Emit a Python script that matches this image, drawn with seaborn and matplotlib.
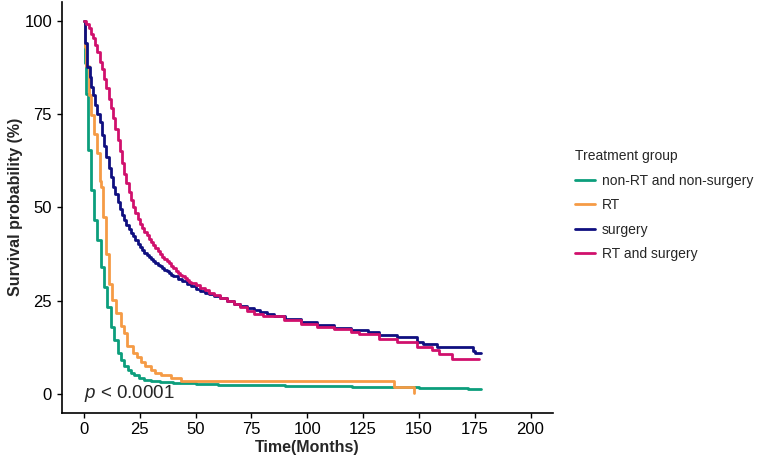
import matplotlib
matplotlib.use("Agg")
import matplotlib.pyplot as plt
import seaborn as sns
import pandas as pd

groups = ["non-RT and non-surgery", "RT", "surgery", "RT and surgery"]
colors = ["#0C9E7C", "#F59B45", "#0F0F80", "#D0106C"]

t_none = [0, 0.3, 0.8, 1.8, 3.3, 4.5, 6.0, 7.5, 9.0, 10.5, 12.0, 13.5, 15.0, 16.5, 18, 19.5,
          21, 22.5, 24.5, 27, 30, 34, 40, 50, 60, 75, 90, 105, 120, 135, 150, 160, 172, 177.8]
s_none = [100, 88.6, 80.5, 65.4, 54.6, 46.6, 41.3, 34.0, 28.7, 23.4, 18.0, 14.5, 10.9, 9.1, 7.6, 6.4,
          5.6, 5.1, 4.4, 3.8, 3.4, 3.1, 2.9, 2.7, 2.5, 2.4, 2.2, 2.1, 1.9, 1.8, 1.7, 1.6, 1.4, 1.4]

t_rt = [0, 0.3, 1, 2, 3, 4.5, 6, 7, 7.5, 8.7, 9.7, 11.2, 12.7, 14.2, 16.5, 18, 19.4, 21.7,
        23.5, 25.4, 27.5, 29.9, 32, 34.3, 38.8, 43.3, 139, 148]
s_rt = [100, 93, 88, 80, 74.7, 69.7, 64.5, 57, 55.5, 47.5, 37.6, 29.6, 25.2, 21.6, 18.1, 16.3, 12.8, 11,
        9.8, 8.7, 7.5, 6.4, 5.7, 5.1, 4.2, 3.5, 1.8, 0.2]

t_surg = [0, 0.3, 1.5, 2.5, 3.3, 4, 5, 6, 7, 8, 9, 10, 11, 12, 13, 14, 15, 16, 17, 18, 19, 20,
          21, 22, 23, 24, 25, 26, 27, 28, 29, 30, 31, 32, 33, 34, 35, 36, 37, 38, 39, 40, 42,
          44, 46, 48, 50, 52, 54, 56, 58, 61, 64, 67, 70, 73, 76, 79, 82, 85, 90, 97, 104.5,
          112, 119.4, 127, 132, 140, 149.3, 152, 158, 174.3, 175.3, 177.8]
s_surg = [100, 94, 87.7, 85, 82.3, 80, 77.5, 75, 73, 69.5, 66.5, 63.5, 60.5, 58, 55.5, 53.5, 51.5,
          49.5, 48, 46.5, 45.3, 44.2, 43.2, 42.2, 41.3, 40.3, 39.4, 38.6, 37.9, 37.3, 36.7, 36.1,
          35.6, 35.1, 34.6, 34.2, 33.7, 33.3, 32.9, 32.4, 32, 31.6, 30.9, 30.2, 29.4, 28.8, 28.2,
          27.6, 27.1, 26.7, 26.3, 25.6, 24.9, 24.2, 23.6, 23.1, 22.5, 22.0, 21.5, 21.0, 20.2, 19.3,
          18.4, 17.7, 17.1, 16.6, 15.9, 15.3, 14.0, 13.4, 12.7, 11.6, 10.9, 10.9]

t_both = [0, 1, 2, 3, 4, 5, 6, 7, 8, 9, 10, 11, 12, 13, 14, 15, 16, 17, 18, 19, 20, 21, 22, 23,
          24, 25, 26, 27, 28, 29, 30, 31, 32, 33, 34, 35, 36, 37, 38, 39, 40, 41, 42, 43, 44, 45,
          46, 47, 48, 50, 52, 54, 56, 58, 61, 64, 67, 70, 73, 76, 80, 89.5, 97, 104.5, 112, 119.4,
          123, 132, 140, 149.3, 156, 159, 165, 176.9]
s_both = [100, 99, 98, 96.5, 95.3, 93.5, 91.5, 89, 87, 84.5, 82, 79, 76.5, 74, 71, 68, 65, 62,
          59, 56.5, 54, 52, 50, 48.5, 47, 45.5, 44.5, 43.5, 42.5, 41.5, 40.7, 40, 39, 38.3, 37.5,
          36.8, 36.2, 35.5, 35, 34.3, 33.7, 33, 32.5, 32, 31.5, 31, 30.5, 30, 29.7, 29.2, 28.5,
          27.8, 27.1, 26.5, 25.7, 24.8, 24, 23.2, 22.3, 21.5, 20.8, 19.8, 18.8, 18, 17.3, 16.7,
          16.1, 14.6, 14, 12.7, 11.8, 10.8, 9.3, 9.3]

x_ticks = [0, 25, 50, 75, 100, 125, 150, 175, 200]
y_ticks = [0, 25, 50, 75, 100]

rows = []
for g, tt, ss in zip(groups, [t_none, t_rt, t_surg, t_both], [s_none, s_rt, s_surg, s_both]):
    for a, b in zip(tt, ss):
        rows.append((g, a, b))
df = pd.DataFrame(rows, columns=["group", "time", "surv"])

sns.set_style("ticks")
plt.rcParams["font.family"] = ["Liberation Sans", "DejaVu Sans"]
plt.rcParams["mathtext.fontset"] = "custom"
plt.rcParams["mathtext.it"] = "Liberation Sans:italic"
plt.rcParams["mathtext.rm"] = "Liberation Sans"

fig = plt.figure(figsize=(7.65, 4.58), dpi=100)
ax = fig.add_axes([0.0807, 0.099, 0.642, 0.8965])

sns.lineplot(data=df, x="time", y="surv", hue="group", hue_order=groups,
             palette=dict(zip(groups, colors)), drawstyle="steps-post",
             estimator=None, sort=False, linewidth=2.0, ax=ax)

ax.set_xlim(-10, 210)
ax.set_ylim(-5, 105)
ax.set_xticks(x_ticks)
ax.set_yticks(y_ticks)
ax.tick_params(axis="both", labelsize=12, length=3.5, width=1.0, color="black", labelcolor="black", direction="out")
for sp in ["top", "right"]:
    ax.spines[sp].set_visible(False)
for sp in ["left", "bottom"]:
    ax.spines[sp].set_linewidth(1.2)
    ax.spines[sp].set_color("black")

ax.set_xlabel("Time(Months)", fontsize=11.5, fontweight="bold", labelpad=2)
ax.set_ylabel("Survival probability (%)", fontsize=11.5, fontweight="bold", labelpad=1)

ax.text(0, 0, r"$\it{p}$ < 0.0001", fontsize=13.5, ha="left", va="center")

handles, labels = ax.get_legend_handles_labels()
leg = ax.legend(handles, labels, title="Treatment group", loc="center left",
                bbox_to_anchor=(0.752, 0.552), bbox_transform=fig.transFigure,
                frameon=False, fontsize=10, title_fontsize=10, handlelength=1.45,
                handletextpad=0.45, labelspacing=0.75, borderpad=0, borderaxespad=0,
                alignment="left")
for line in leg.get_lines():
    line.set_linewidth(2.0)

fig.savefig("out.png", dpi=100)
